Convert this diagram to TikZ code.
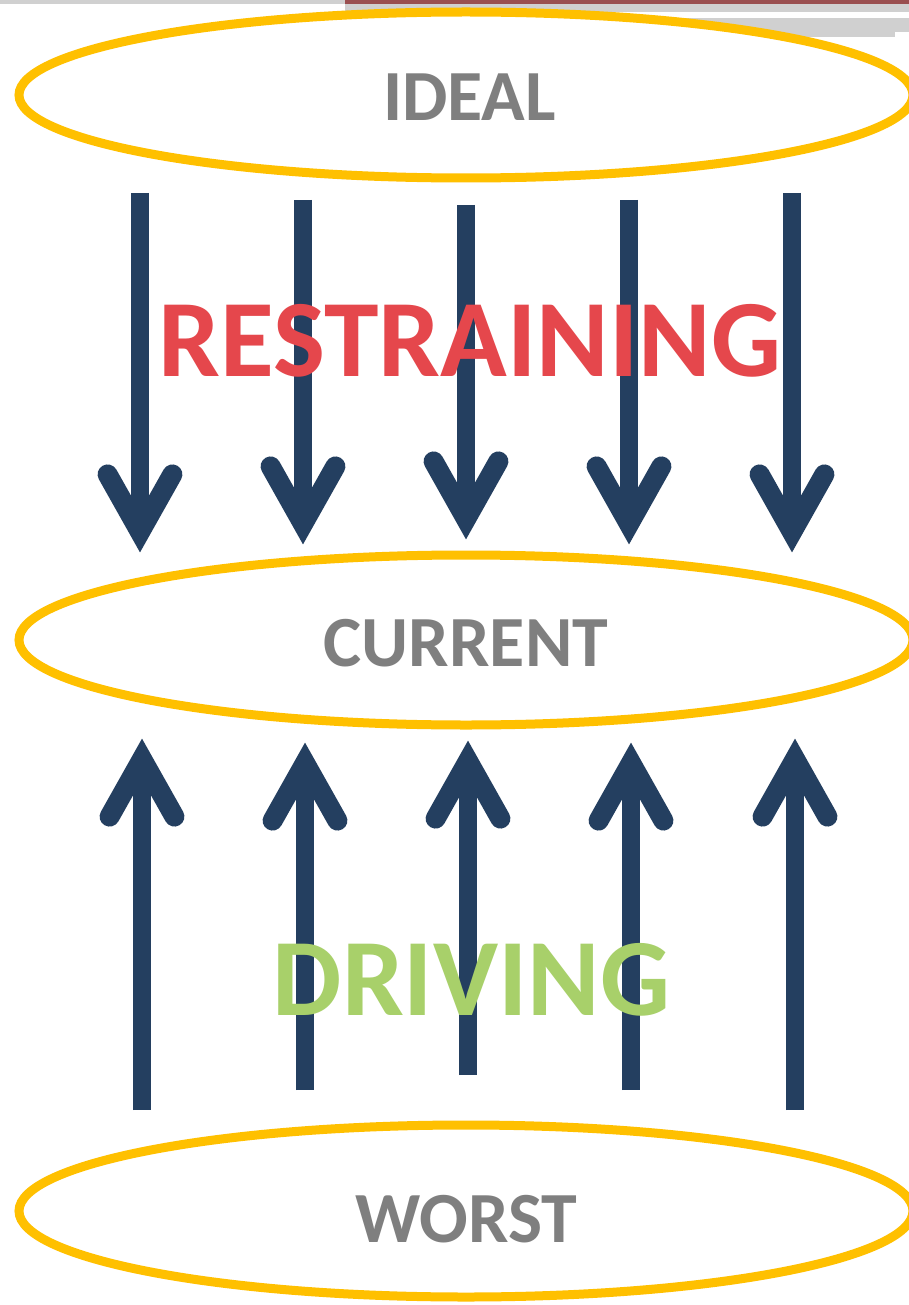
\documentclass[tikz,border=0pt]{standalone}
\usepackage{fontspec}
\newfontfamily\calib{Carlito}
\usetikzlibrary{calc,shapes.geometric}
\definecolor{navy}{HTML}{243F60}
\definecolor{gold}{HTML}{FFC000}
\definecolor{lbl}{HTML}{7F7F7F}
\definecolor{redtxt}{HTML}{E5474C}
\definecolor{greentxt}{HTML}{A8D06A}
\definecolor{barred}{HTML}{9A4F50}
\definecolor{bargrey}{HTML}{D0D0D0}
\tikzset{
  stateell/.style={ellipse, draw=gold, line width=9pt, fill=white, inner sep=0pt},
  statelbl/.style={text=lbl, font=\calib\bfseries\fontsize{72}{72}\selectfont, inner sep=0pt},
  bigword/.style={font=\calib\bfseries\fontsize{110}{110}\selectfont, inner sep=0pt},
  shaft/.style={draw=navy, line width=18pt, line cap=butt},
  chevron/.style={draw=navy, line width=20pt, line cap=round, line join=miter},
}
\begin{document}
\begin{tikzpicture}[x=1pt,y=-1pt]
\useasboundingbox (0,0) rectangle (909,1305);
\fill[white] (0,0) rectangle (909,1305);
% top bars
\fill[bargrey] (0,0) rectangle (345,4);
\fill[barred] (345,0) rectangle (909,4);
\fill[bargrey] (345,4) rectangle (909,12);
\fill[bargrey] (345,18) rectangle (909,32);
\fill[bargrey] (345,32) rectangle (895,37);
% ellipses
\node[stateell, minimum width=894pt, minimum height=166pt] (ideal) at (466,95) {};
\node[stateell, minimum width=894pt, minimum height=170pt] (current) at (466,640) {};
\node[stateell, minimum width=894pt, minimum height=172pt] (worst) at (466,1211) {};
% restraining arrows (down)
\foreach \i/\x/\ys/\yt in {1/140/193/553, 2/303/200/545, 3/466/205/540, 4/629/200/545, 5/792/193/553} {
  \coordinate (dn\i s) at (\x,\ys);
  \coordinate (dn\i t) at (\x,\yt);
  \draw[shaft] (dn\i s) -- ($(dn\i t)!21pt!(dn\i s)$);
  \draw[chevron] ($(dn\i t)!85pt!22.4:(dn\i s)$) -- ($(dn\i t)!21pt!(dn\i s)$) -- ($(dn\i t)!85pt!-22.4:(dn\i s)$);
}
% driving arrows (up)
\foreach \i/\x/\ys/\yt in {1/142/1110/738, 2/305/1090/742, 3/468/1075/740, 4/631/1090/742, 5/795/1110/738} {
  \coordinate (up\i s) at (\x,\ys);
  \coordinate (up\i t) at (\x,\yt);
  \draw[shaft] (up\i s) -- ($(up\i t)!21pt!(up\i s)$);
  \draw[chevron] ($(up\i t)!85pt!22.4:(up\i s)$) -- ($(up\i t)!21pt!(up\i s)$) -- ($(up\i t)!85pt!-22.4:(up\i s)$);
}
% big words
\node[bigword, text=redtxt] (restr) at (470,340.5) {RESTRAINING};
\node[bigword, text=greentxt] (driv) at (471.5,979.5) {DRIVING};
% state labels
\node[statelbl] (idealtxt) at (469.5,97.5) {IDEAL};
\node[statelbl] (currenttxt) at (466,643.5) {CURRENT};
\node[statelbl] (worsttxt) at (466.5,1219.5) {WORST};
\end{tikzpicture}
\end{document}
